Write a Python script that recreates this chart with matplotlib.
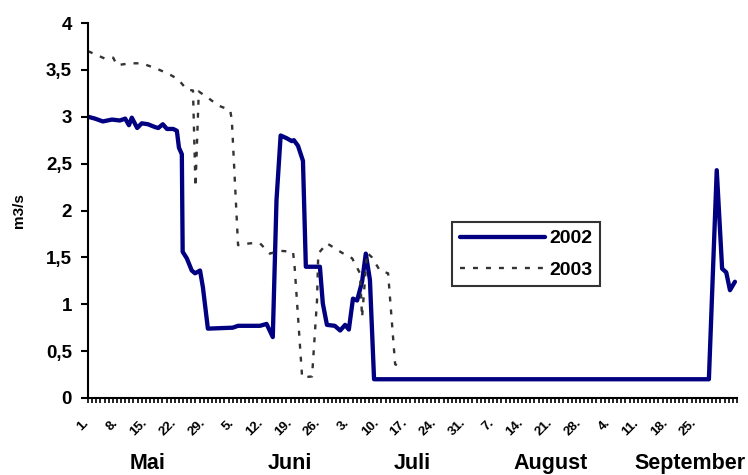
import matplotlib
matplotlib.use("Agg")
import matplotlib.pyplot as plt
import matplotlib.transforms as mtransforms

plt.rcParams["font.family"] = ["Liberation Sans", "DejaVu Sans"]
plt.rcParams["font.weight"] = "bold"

# day index: 0 = 1. Mai
days_2002 = [0, 1.7, 3.6, 5.8, 7.7, 9, 9.9, 10.6, 11.9, 13, 14.5, 16.2, 17, 18.1, 19.1,
             20.6, 21.5, 22, 22.7, 22.9, 23.9, 25.1, 25.9, 27.1, 27.8, 29, 35, 36.3,
             41.6, 43.2, 44.7, 45.6, 46.6, 48.1, 49.3, 49.8, 50.8, 52, 52.7, 56.1,
             56.8, 57.8, 59.7, 61, 62.2, 63.1, 64.1, 65.1, 66.3, 67.2, 68.2, 69.2,
             150.2, 152.1, 153.4, 154.4, 155.3, 156.5]
flow_2002 = [3.00, 2.98, 2.95, 2.97, 2.96, 2.98, 2.91, 2.99, 2.88, 2.93, 2.92, 2.89, 2.88,
             2.92, 2.87, 2.87, 2.85, 2.67, 2.60, 1.56, 1.49, 1.36, 1.33, 1.36, 1.18, 0.74,
             0.75, 0.77, 0.77, 0.79, 0.65, 2.11, 2.80, 2.77, 2.74, 2.75, 2.69, 2.53, 1.40,
             1.40, 1.01, 0.78, 0.77, 0.72, 0.78, 0.73, 1.06, 1.04, 1.24, 1.54, 1.26, 0.20,
             0.20, 2.43, 1.38, 1.34, 1.15, 1.24]

days_2003 = [0, 4.1, 6.1, 7, 10.2, 13, 16.2, 19.4, 21.8, 23.9, 25.4, 26, 26.8, 27.1, 28.8,
             31.5, 34.4, 34.8, 36.3, 39.2, 41.6, 44, 46.4, 49.6, 50, 51.8, 54.2, 55.4,
             55.7, 57.8, 61.4, 63.9, 65.8, 66.3, 67.5, 68.7, 70.6, 72.6, 74.3, 75.5]
flow_2003 = [3.70, 3.62, 3.63, 3.55, 3.57, 3.57, 3.52, 3.46, 3.40, 3.29, 3.28, 2.25, 3.27,
             3.26, 3.21, 3.12, 3.07, 2.96, 1.63, 1.65, 1.65, 1.54, 1.57, 1.56, 1.39, 0.22,
             0.23, 1.04, 1.54, 1.65, 1.55, 1.49, 1.33, 0.86, 1.55, 1.50, 1.36, 1.33, 0.36,
             0.33]

tick_days = list(range(0, 148, 7))
tick_labels = ["1.", "8.", "15.", "22.", "29.", "5.", "12.", "19.", "26.", "3.", "10.",
               "17.", "24.", "31.", "7.", "14.", "21.", "28.", "4.", "11.", "18.", "25."]
months = ["Mai", "Juni", "Juli", "August", "September"]
month_x = [14.5, 48.9, 78.4, 111.8, 145.6]

y_ticks = [0, 0.5, 1, 1.5, 2, 2.5, 3, 3.5, 4]
y_labels = ["0", "0,5", "1", "1,5", "2", "2,5", "3", "3,5", "4"]

fig = plt.figure(figsize=(7.48, 4.75), dpi=100)
ax = fig.add_axes([88 / 748, 1 - 398 / 475, 649 / 748, 375 / 475])

ax.plot(days_2002, flow_2002, color="#000080", lw=3.1, label="2002",
        solid_joinstyle="round", solid_capstyle="round")
ax.plot(days_2003, flow_2003, color="#333333", lw=1.7, ls=(0, (2.1, 3.4)), label="2003")

ax.set_xlim(0, 157)
ax.set_ylim(0, 4)
ax.spines["top"].set_visible(False)
ax.spines["right"].set_visible(False)
ax.spines["left"].set_linewidth(1.5)
ax.spines["bottom"].set_linewidth(1.5)

ax.set_yticks(y_ticks)
ax.set_yticklabels(y_labels, fontsize=13.5, fontweight="bold")
ax.tick_params(axis="y", direction="out", length=5, width=1.5, pad=6.5)

ax.set_xticks(tick_days)
ax.set_xticklabels(tick_labels, fontsize=9.5, fontweight="bold", rotation=45,
                   ha="right", va="top", rotation_mode="anchor")
ax.set_xticks(range(0, 158), minor=True)
ax.tick_params(axis="x", which="both", direction="out", length=3.6, width=1.2, pad=10)
shift = mtransforms.ScaledTranslation(-5 / 100, 0, fig.dpi_scale_trans)
for lab in ax.get_xticklabels():
    lab.set_transform(lab.get_transform() + shift)

for name, mx in zip(months, month_x):
    ax.text(mx, -0.174, name, transform=ax.get_xaxis_transform(), ha="center",
            va="center", fontsize=15.5, fontweight="bold")

ax.set_ylabel("m3/s", fontsize=11, fontweight="bold")
ax.yaxis.set_label_coords(-0.0955, 0.5)

leg = ax.legend(loc="upper left", bbox_to_anchor=(452 / 748, 1 - 222 / 475),
                bbox_transform=fig.transFigure, frameon=True, fancybox=False,
                handlelength=4.4, labelspacing=0.7, borderpad=0.4, handletextpad=0.2,
                borderaxespad=0, prop={"size": 14, "weight": "bold"})
leg.get_frame().set_edgecolor("black")
leg.get_frame().set_linewidth(1.5)

fig.savefig("out.png", dpi=100)
